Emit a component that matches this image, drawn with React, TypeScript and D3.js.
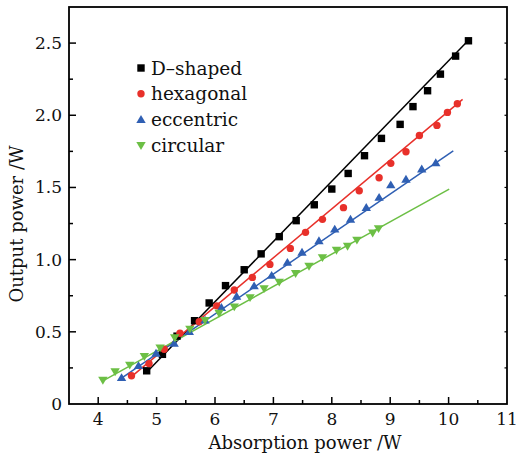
import React from "react";
import * as d3 from "d3";

const seriesNames = ["D\u2013shaped", "hexagonal", "eccentric", "circular"];
const seriesColors = ["#000000", "#e8302a", "#2f5fb3", "#6cbf45"];
const seriesShapes = ["square", "circle", "triangleUp", "triangleDown"];

const dX = [4.83, 5.10, 5.35, 5.65, 5.90, 6.18, 6.50, 6.79, 7.10, 7.39, 7.70, 8.00, 8.28, 8.56, 8.85, 9.17, 9.39, 9.64, 9.86, 10.12, 10.34];
const dY = [0.23, 0.344, 0.47, 0.577, 0.70, 0.82, 0.93, 1.04, 1.159, 1.27, 1.38, 1.489, 1.597, 1.72, 1.84, 1.937, 2.06, 2.17, 2.285, 2.41, 2.516];

const hX = [4.57, 4.87, 5.13, 5.40, 5.73, 6.03, 6.33, 6.64, 6.94, 7.29, 7.55, 7.84, 8.20, 8.47, 8.81, 9.01, 9.27, 9.50, 9.80, 9.98, 10.15];
const hY = [0.196, 0.28, 0.379, 0.49, 0.57, 0.68, 0.79, 0.877, 0.967, 1.078, 1.189, 1.279, 1.36, 1.477, 1.567, 1.667, 1.747, 1.86, 1.93, 2.02, 2.08];

const eX = [4.40, 4.69, 4.99, 5.30, 5.56, 5.83, 6.11, 6.37, 6.67, 6.97, 7.24, 7.49, 7.78, 8.05, 8.32, 8.59, 8.81, 9.01, 9.27, 9.54, 9.78];
const eY = [0.182, 0.265, 0.35, 0.42, 0.50, 0.58, 0.667, 0.745, 0.817, 0.89, 0.98, 1.05, 1.13, 1.21, 1.279, 1.36, 1.43, 1.517, 1.556, 1.627, 1.67];

const cX = [4.08, 4.29, 4.54, 4.79, 5.06, 5.31, 5.57, 5.83, 6.07, 6.33, 6.60, 6.84, 7.10, 7.38, 7.61, 7.84, 8.08, 8.27, 8.43, 8.70, 8.80];
const cY = [0.166, 0.224, 0.27, 0.33, 0.39, 0.46, 0.52, 0.58, 0.63, 0.674, 0.738, 0.80, 0.845, 0.905, 0.955, 1.015, 1.066, 1.094, 1.136, 1.186, 1.216];

// fitted lines: [x0, y0, x1, y1]
const fitLines = [
  [4.83, 0.22, 10.34, 2.52],
  [4.57, 0.19, 10.24, 2.11],
  [4.40, 0.18, 10.08, 1.754],
  [4.08, 0.16, 10.01, 1.489],
];

const xTicks = [4, 5, 6, 7, 8, 9, 10, 11];
const yTicks = [0, 0.5, 1.0, 1.5, 2.0, 2.5];
const xLabel = "Absorption power /W";
const yLabel = "Output power /W";

const W = 519, H = 455;
const L = 69, R = 507, T = 7, B = 404;
const FONT = "'DejaVu Serif', serif";

function Marker({ shape, x, y, color }: { shape: string; x: number; y: number; color: string }) {
  if (shape === "square") return <rect x={x - 3.7} y={y - 3.7} width={7.4} height={7.4} fill={color} />;
  if (shape === "circle") return <circle cx={x} cy={y} r={3.7} fill={color} />;
  if (shape === "triangleUp")
    return <path d={`M${x},${y - 4.6}L${x + 4.7},${y + 3.3}L${x - 4.7},${y + 3.3}Z`} fill={color} />;
  return <path d={`M${x},${y + 4.6}L${x + 4.7},${y - 3.3}L${x - 4.7},${y - 3.3}Z`} fill={color} />;
}

export default function App() {
  const x = d3.scaleLinear().domain([3.5, 11]).range([L, R]);
  const y = d3.scaleLinear().domain([0, 2.75]).range([B, T]);
  const data = [
    [dX, dY],
    [hX, hY],
    [eX, eY],
    [cX, cY],
  ];
  const xMinor = d3.range(4.5, 11, 1);
  const yMinor = d3.range(0.25, 2.75, 0.5);
  const yAll = d3.range(0.25, 2.75, 0.25);
  const line = d3.line<number[]>().x((d) => x(d[0])).y((d) => y(d[1]));

  return (
    <svg width={W} height={H} style={{ position: "absolute", left: 0, top: 0, background: "#fff" }} fontFamily={FONT} fill="#111">
      {fitLines.map((f, i) => (
        <path key={"l" + i} d={line([[f[0], f[1]], [f[2], f[3]]]) || ""} stroke={seriesColors[i]} strokeWidth={1.5} fill="none" />
      ))}
      {data.map(([xs, ys], i) =>
        xs.map((xv, j) => (
          <Marker key={`m${i}-${j}`} shape={seriesShapes[i]} x={x(xv)} y={y(ys[j])} color={seriesColors[i]} />
        ))
      )}
      <rect x={L} y={T} width={R - L} height={B - T} fill="none" stroke="#000" strokeWidth={1.8} />
      {xTicks.map((t) => (
        <g key={"xt" + t}>
          {t < 11 && <line x1={x(t)} x2={x(t)} y1={B} y2={B - 7} stroke="#000" strokeWidth={1.5} />}
          <text x={x(t)} y={425} textAnchor="middle" fontSize={17}>{t}</text>
        </g>
      ))}
      {xMinor.map((t) => (
        <line key={"xm" + t} x1={x(t)} x2={x(t)} y1={B} y2={B - 4} stroke="#000" strokeWidth={1.5} />
      ))}
      {yTicks.map((t) => (
        <g key={"yt" + t}>
          {t > 0 && <line x1={L} x2={L + 7} y1={y(t)} y2={y(t)} stroke="#000" strokeWidth={1.5} />}
          <text x={62} y={y(t) + 6} textAnchor="end" fontSize={17}>{t === 0 ? "0" : t.toFixed(1)}</text>
        </g>
      ))}
      {yMinor.map((t) => (
        <line key={"ym" + t} x1={L} x2={L + 4} y1={y(t)} y2={y(t)} stroke="#000" strokeWidth={1.5} />
      ))}
      {yAll.map((t) => (
        <line key={"yr" + t} x1={R} x2={R - 2.5} y1={y(t)} y2={y(t)} stroke="#000" strokeWidth={1.2} />
      ))}
      <text x={305} y={449} textAnchor="middle" fontSize={18}>{xLabel}</text>
      <text transform={`translate(23,224) rotate(-90)`} textAnchor="middle" fontSize={18}>{yLabel}</text>
      {seriesNames.map((n, i) => (
        <g key={"lg" + i}>
          <Marker shape={seriesShapes[i]} x={141} y={68 + i * 25.8} color={seriesColors[i]} />
          <text x={151} y={74.5 + i * 25.8} fontSize={18.5}>{n}</text>
        </g>
      ))}
    </svg>
  );
}
